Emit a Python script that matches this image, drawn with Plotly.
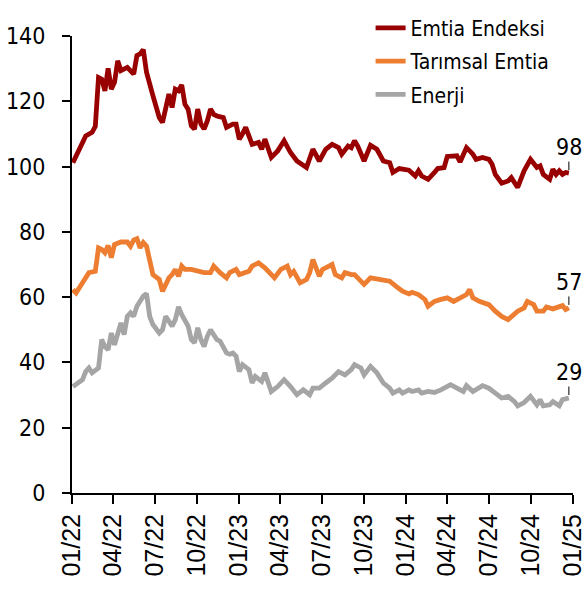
import pandas as pd
import plotly.graph_objects as go

# Weekly observations: week index counted from 2022-01-03
BASE_DATE = "2022-01-03"

emtia_weeks = [0, 4, 6, 7, 8, 9, 10, 11, 12, 13, 14, 15, 17, 19, 20, 21, 22, 23, 25, 26, 27, 28,
               29, 30, 31, 32, 33, 34, 35, 36, 37, 38, 39, 40, 41, 42, 43, 44, 45, 47, 48, 50, 51,
               52, 53, 54, 56, 58, 59, 60, 62, 64, 66, 68, 70, 73, 75, 77, 79, 81, 83, 84, 86, 87,
               88, 89, 91, 93, 95, 97, 99, 100, 102, 105, 107, 108, 109, 111, 113, 114, 116, 117,
               120, 121, 123, 125, 126, 128, 130, 131, 132, 134, 136, 137, 139, 141, 143, 145, 146,
               147, 149, 150, 151, 152, 153, 154, 155]
emtia_vals = [101.2, 109.4, 110.5, 112.3, 127.3, 126.8, 123.2, 130.1, 123.7, 125.8, 132.4, 129.4,
              130.4, 128.3, 134.0, 134.5, 135.8, 128.9, 121.7, 117.6, 115.0, 113.5, 117.6, 122.2,
              118.1, 123.7, 123.2, 125.0, 119.1, 117.6, 112.5, 111.5, 117.6, 113.0, 111.5, 114.0,
              117.6, 116.0, 115.5, 115.0, 112.0, 113.0, 113.0, 108.4, 110.0, 112.0, 106.8, 107.4,
              105.3, 108.4, 102.8, 104.8, 107.9, 104.3, 101.7, 99.7, 105.3, 101.7, 105.3, 106.8,
              105.8, 103.8, 106.3, 105.8, 107.9, 106.3, 101.7, 106.5, 105.3, 101.7, 101.2, 98.2,
              99.4, 98.9, 97.1, 98.7, 97.1, 96.1, 98.2, 99.4, 99.7, 103.1, 103.3, 101.4, 105.8,
              103.8, 102.2, 102.8, 102.2, 100.7, 97.6, 94.9, 95.6, 96.6, 93.6, 98.7, 102.2, 99.7,
              100.2, 97.6, 96.1, 99.2, 97.6, 98.7, 97.6, 98.2, 98.0]

tarim_weeks = [0, 1, 3, 5, 7, 8, 9, 10, 11, 12, 13, 15, 17, 18, 19, 20, 21, 22, 23, 24, 25, 27,
               28, 30, 31, 32, 33, 34, 35, 37, 39, 41, 43, 44, 46, 48, 49, 51, 52, 55, 56, 58, 60,
               62, 63, 65, 67, 68, 69, 71, 73, 74, 75, 77, 78, 81, 82, 84, 85, 87, 88, 90, 91, 93,
               95, 97, 99, 101, 103, 105, 106, 108, 110, 111, 113, 115, 117, 119, 121, 123, 124,
               125, 127, 130, 132, 134, 136, 138, 139, 141, 142, 144, 145, 147, 148, 150, 151, 153,
               154, 155]
tarim_vals = [62.3, 61.3, 64.4, 67.5, 67.9, 75.1, 74.6, 73.6, 75.8, 72.1, 76.1, 76.9, 76.9, 75.6,
              77.5, 77.9, 75.1, 76.7, 75.6, 70.5, 66.9, 65.4, 61.8, 65.9, 66.9, 68.5, 66.4, 69.5,
              68.5, 68.5, 67.9, 67.5, 67.5, 69.5, 67.5, 65.9, 67.5, 68.5, 66.9, 67.9, 69.5, 70.5,
              69.0, 66.9, 65.9, 68.5, 69.5, 66.9, 67.9, 64.4, 65.4, 67.5, 71.5, 66.4, 68.5, 70.0,
              66.9, 65.9, 67.5, 66.9, 66.9, 64.9, 63.9, 65.9, 65.6, 65.4, 64.9, 63.3, 61.8, 61.0,
              61.5, 60.8, 59.3, 57.2, 58.7, 59.3, 59.8, 58.7, 59.8, 60.8, 62.3, 59.8, 58.7, 57.7,
              55.7, 54.1, 53.1, 54.6, 55.7, 56.7, 58.7, 57.7, 55.7, 55.7, 57.0, 56.4, 56.7, 57.4,
              56.2, 56.7]

enerji_weeks = [0, 2, 3, 4, 5, 6, 8, 9, 10, 11, 12, 13, 14, 15, 16, 17, 18, 19, 20, 22, 23, 24,
                25, 27, 28, 29, 31, 32, 33, 34, 36, 37, 38, 39, 40, 41, 42, 43, 45, 46, 48, 49, 50,
                51, 52, 53, 55, 56, 57, 59, 60, 61, 62, 64, 66, 68, 70, 72, 74, 75, 77, 79, 81, 83,
                85, 87, 88, 90, 91, 93, 95, 97, 99, 100, 102, 103, 105, 106, 108, 109, 111, 113,
                115, 118, 120, 122, 123, 125, 128, 130, 132, 134, 136, 138, 139, 141, 143, 145,
                146, 147, 149, 150, 152, 153, 155]
enerji_vals = [32.6, 34.2, 34.7, 37.2, 38.3, 36.8, 38.3, 47.0, 44.9, 43.9, 49.0, 45.4, 49.0, 52.1,
               48.5, 54.1, 55.2, 54.1, 57.2, 60.3, 61.1, 54.1, 51.6, 49.0, 50.0, 54.1, 51.1, 53.1,
               57.0, 54.6, 51.1, 47.0, 46.0, 50.6, 47.0, 44.9, 48.0, 50.0, 47.0, 46.5, 42.9, 42.5,
               42.9, 41.9, 37.2, 39.3, 37.8, 33.7, 35.7, 34.2, 36.8, 33.7, 31.1, 32.6, 34.7, 32.6,
               30.1, 31.6, 30.1, 32.1, 32.1, 33.7, 35.2, 37.2, 36.2, 37.8, 39.3, 38.3, 36.2, 38.8,
               36.8, 33.7, 32.1, 30.6, 31.6, 30.6, 31.6, 31.1, 31.6, 30.6, 31.1, 30.8, 31.6, 33.2,
               32.1, 31.1, 32.9, 31.1, 32.9, 32.1, 30.6, 29.1, 29.6, 28.0, 26.7, 27.7, 29.6, 27.0,
               28.6, 26.7, 27.0, 28.0, 26.7, 28.6, 29.1]

series_names = ["Emtia Endeksi", "Tarımsal Emtia", "Enerji"]
series_colors = ["#990000", "#ED7D31", "#A5A5A5"]
end_labels = ["98", "57", "29"]

tick_dates = ["2022-01-01", "2022-04-01", "2022-07-01", "2022-10-01", "2023-01-01", "2023-04-01",
              "2023-07-01", "2023-10-01", "2024-01-01", "2024-04-01", "2024-07-01", "2024-10-01",
              "2025-01-01"]
tick_text = ["01/22", "04/22", "07/22", "10/22", "01/23", "04/23", "07/23", "10/23", "01/24",
             "04/24", "07/24", "10/24", "01/25"]


def to_dates(weeks):
    return pd.Timestamp(BASE_DATE) + pd.to_timedelta([w * 7 for w in weeks], unit="D")


all_weeks = [emtia_weeks, tarim_weeks, enerji_weeks]
all_vals = [emtia_vals, tarim_vals, enerji_vals]

LABEL_FONT = "DejaVu Sans Condensed, Noto Sans, sans-serif"

fig = go.Figure()
for i, (name, color) in enumerate(zip(series_names, series_colors)):
    fig.add_trace(go.Scatter(
        x=to_dates(all_weeks[i]), y=all_vals[i], mode="lines", name=name,
        line=dict(color=color, width=4.8), legendgroup=f"g{i}", cliponaxis=False,
    ))

for i, lab in enumerate(end_labels):
    d = to_dates(all_weeks[i])
    fig.add_annotation(
        x=d[-1], y=all_vals[i][-1], text=lab, showarrow=True, arrowhead=0,
        arrowwidth=1, arrowcolor="black", ax=0, ay=-26, standoff=3,
        font=dict(family=LABEL_FONT, size=23, color="black"),
    )

fig.update_layout(
    width=585, height=589,
    margin=dict(l=72, r=12, t=36, b=96, autoexpand=False),
    paper_bgcolor="white", plot_bgcolor="white",
    showlegend=True,
    legend=dict(
        x=0.596, y=1.062, xanchor="left", yanchor="top",
        font=dict(family=LABEL_FONT, size=21, color="black"),
        bgcolor="rgba(0,0,0,0)", tracegroupgap=3, traceorder="grouped",
        itemwidth=30,
    ),
    font=dict(family=LABEL_FONT, color="black"),
)

fig.update_xaxes(
    range=["2022-01-01", "2025-01-01"], automargin=False,
    tickmode="array", tickvals=tick_dates, ticktext=tick_text,
    tickangle=-90, ticks="outside", ticklen=9, tickwidth=1.5, tickcolor="black",
    showline=True, linecolor="black", linewidth=2, showgrid=False, zeroline=False,
    ticklabeloverflow="allow",
    tickfont=dict(family="Liberation Sans, Arial, sans-serif", size=25, color="black"),
)
fig.update_yaxes(
    range=[0, 140], automargin=False, tickmode="array",
    tickvals=[0, 20, 40, 60, 80, 100, 120, 140],
    ticks="outside", ticklen=8, tickwidth=1.5, tickcolor="black",
    showline=True, linecolor="black", linewidth=2, showgrid=False, zeroline=False,
    tickfont=dict(family=LABEL_FONT, size=23, color="black"),
    ticklabelstandoff=12,
)

fig.write_html(
    "out.html",
    config={"displayModeBar": False},
    post_script="document.body.style.margin='0';document.body.style.overflow='hidden';",
)
